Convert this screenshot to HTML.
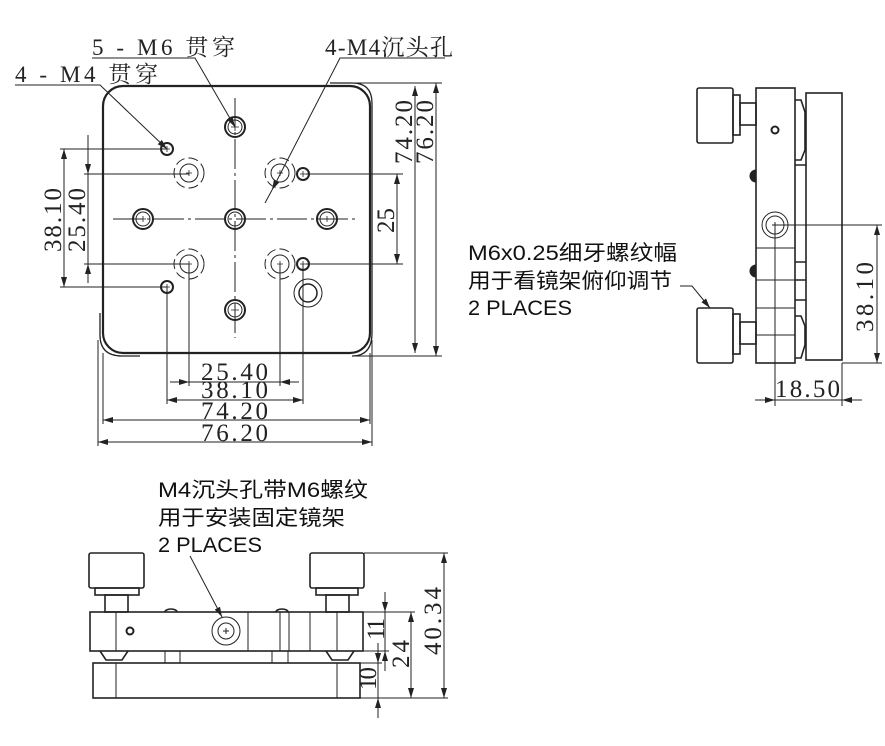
<!DOCTYPE html>
<html><head><meta charset="utf-8"><style>
html,body{margin:0;padding:0;background:#fff;}
svg{display:block;}
.s{font-family:"Liberation Serif","Noto Serif CJK SC",serif;font-size:25px;fill:#222;}
.l{font-family:"Liberation Serif","Noto Serif CJK SC",serif;font-size:23px;fill:#222;}
.t{font-family:"Liberation Sans","Noto Sans CJK SC",sans-serif;font-size:21px;fill:#111;}
</style></head><body>
<svg width="885" height="746" viewBox="0 0 885 746" xmlns="http://www.w3.org/2000/svg">
<defs>
<marker id="a" viewBox="0 0 10 6" refX="10" refY="3" markerWidth="10" markerHeight="6" orient="auto-start-reverse" markerUnits="userSpaceOnUse"><path d="M0,0 L10,3 L0,6 z" fill="#222"/></marker>
</defs>
<g fill="none" stroke="#222" stroke-width="1">
<rect x="103" y="86" width="267" height="267" rx="20" stroke-width="2.2"/>
<path d="M330,83 H352 Q372,83 372,103 V333 Q372,356 352,356" stroke-width="1.3"/>
<path d="M100,313 V335 Q100,356 122,356 H140" stroke-width="1.3"/>
<line x1="113" y1="219" x2="357" y2="219" stroke-dasharray="30,4,3,4"/>
<line x1="235" y1="98" x2="235" y2="338" stroke-dasharray="30,4,3,4"/>
<g stroke-width="2">
<circle cx="235" cy="127" r="10"/><circle cx="235" cy="219" r="10"/><circle cx="143" cy="219" r="10"/><circle cx="327" cy="219" r="10"/><circle cx="235" cy="310" r="10"/>
</g>
<g>
<circle cx="235" cy="127" r="7"/><circle cx="235" cy="219" r="7"/><circle cx="143" cy="219" r="7"/><circle cx="327" cy="219" r="7"/><circle cx="235" cy="310" r="7"/>
</g>
<g stroke-width="2">
<circle cx="167" cy="149" r="6"/><circle cx="167" cy="287" r="6"/><circle cx="303" cy="174" r="6"/><circle cx="303" cy="264" r="6"/>
</g>
<g>
<circle cx="189" cy="173" r="9"/><circle cx="280" cy="173" r="9"/><circle cx="189" cy="264" r="9"/><circle cx="280" cy="264" r="9"/>
<g stroke-dasharray="10,4"><circle cx="189" cy="173" r="15"/><circle cx="280" cy="173" r="15"/><circle cx="189" cy="264" r="15"/><circle cx="280" cy="264" r="15"/></g>
</g>
<circle cx="308" cy="293" r="14"/><circle cx="308" cy="293" r="9" stroke-width="1.5"/>
<g stroke-width="0.8">
<path d="M231,127h8M235,123v8M140,219h6M143,216v6M324,219h6M327,216v6M231,310h8M235,306v8M164,149h6M167,146v6M164,287h6M167,284v6M300,174h6M303,171v6M300,264h6M303,261v6M186,173h6M189,170v6M277,173h6M280,170v6M186,264h6M189,261v6M277,264h6M280,261v6"/>
</g>
<path d="M92,58H195L235,127" marker-end="url(#a)"/>
<path d="M15,85H100L167,149" marker-end="url(#a)"/>
<path d="M445,58H340L272,190" marker-end="url(#a)"/>
<line x1="272" y1="190" x2="265" y2="203"/>
<path d="M60,149H167M60,287H167M84,174H189M84,264H189"/>
<line x1="64" y1="149" x2="64" y2="287" marker-start="url(#a)" marker-end="url(#a)"/>
<line x1="88" y1="135" x2="88" y2="174" marker-end="url(#a)"/>
<line x1="88" y1="283" x2="88" y2="264" marker-end="url(#a)"/>
<line x1="88" y1="174" x2="88" y2="264"/>
<path d="M352,83H442M352,356H442M306,174H403M306,264H403"/>
<line x1="415" y1="86" x2="415" y2="353" marker-start="url(#a)" marker-end="url(#a)"/>
<line x1="436" y1="83" x2="436" y2="356" marker-start="url(#a)" marker-end="url(#a)"/>
<line x1="397" y1="174" x2="397" y2="264" marker-start="url(#a)" marker-end="url(#a)"/>
<path d="M189,264V386M280,264V386M167,287V404M303,264V404M103,353V424M370,353V424M98,340V446M372,340V446"/>
<line x1="170" y1="382" x2="189" y2="382" marker-end="url(#a)"/>
<line x1="299" y1="382" x2="280" y2="382" marker-end="url(#a)"/>
<line x1="189" y1="382" x2="280" y2="382"/>
<line x1="167" y1="400" x2="303" y2="400" marker-start="url(#a)" marker-end="url(#a)"/>
<line x1="103" y1="420" x2="370" y2="420" marker-start="url(#a)" marker-end="url(#a)"/>
<line x1="98" y1="442" x2="372" y2="442" marker-start="url(#a)" marker-end="url(#a)"/>

<g stroke-width="1.6">
<rect x="697" y="88" width="36" height="55" rx="2"/>
<rect x="733" y="95" width="7" height="40"/>
<rect x="740" y="103" width="16" height="22"/>
<rect x="697" y="308" width="36" height="55" rx="2"/>
<rect x="733" y="314" width="7" height="40"/>
<rect x="740" y="322" width="16" height="22"/>
<rect x="756" y="88" width="39" height="275"/>
<rect x="806" y="93" width="36" height="267"/>
<path d="M795,100H801L805,112V150L801,160H795M795,316H801L805,326V345L801,358H795"/>
<path d="M795,165H806M795,262H806M795,280H806M795,300H806"/>
</g>
<path d="M756,248H795M756,280H795M756,308H795M756,335H795M795,165V300"/>
<path d="M756,170a3,3 0 0 0 0,12M756,265a3,3 0 0 0 0,12" fill="#222"/>
<circle cx="775" cy="130" r="3.5" stroke-width="2"/>
<circle cx="775" cy="225" r="13"/><circle cx="775" cy="225" r="9"/>
<path d="M772,225h6M775,222v6"/>
<path d="M775,225H882M842,363H882M775,225V406M842,363V406"/>
<line x1="877" y1="225" x2="877" y2="363" marker-start="url(#a)" marker-end="url(#a)"/>
<line x1="755" y1="400" x2="775" y2="400" marker-end="url(#a)"/>
<line x1="862" y1="400" x2="842" y2="400" marker-end="url(#a)"/>
<line x1="775" y1="400" x2="842" y2="400"/>
<path d="M680,286H692L710,308" marker-end="url(#a)"/>

<g stroke-width="1.6">
<rect x="89" y="553" width="55" height="35" rx="2"/>
<rect x="95" y="588" width="44" height="7"/>
<rect x="105" y="595" width="23" height="17"/>
<rect x="310" y="553" width="54" height="35" rx="2"/>
<rect x="316" y="588" width="42" height="7"/>
<rect x="326" y="595" width="23" height="17"/>
<rect x="90" y="612" width="273" height="39"/>
<rect x="93" y="663" width="267" height="35"/>
<path d="M100,651L106,660H122L128,651M326,651L332,660H348L354,651M165,612a6,3 0 0 1 12,0M276,612a6,3 0 0 1 12,0"/>
</g>
<path d="M116,612V651M248,612V651M280,612V651M289,612V651M310,612V651M337,612V651M116,663V698M337,663V698M165,651V663M180,651V663M272,651V663M288,651V663"/>
<circle cx="130" cy="631" r="3.5" stroke-width="2"/>
<circle cx="226" cy="631" r="14"/><circle cx="226" cy="631" r="8"/>
<path d="M223,631h6M226,628v6"/>
<path d="M190,556L222,617" marker-end="url(#a)"/>
<path d="M364,553H448M363,612H415M363,651H389M360,663H382M360,698H448"/>
<line x1="444" y1="553" x2="444" y2="698" marker-start="url(#a)" marker-end="url(#a)"/>
<line x1="411" y1="612" x2="411" y2="698" marker-start="url(#a)" marker-end="url(#a)"/>
<line x1="385" y1="592" x2="385" y2="612" marker-end="url(#a)"/>
<line x1="385" y1="671" x2="385" y2="651" marker-end="url(#a)"/>
<line x1="385" y1="612" x2="385" y2="651"/>
<line x1="378" y1="643" x2="378" y2="663" marker-end="url(#a)"/>
<line x1="378" y1="718" x2="378" y2="698" marker-end="url(#a)"/>
<line x1="378" y1="663" x2="378" y2="698"/>
</g>

<text class="l" x="92" y="55" textLength="143" lengthAdjust="spacing" xml:space="preserve">5 - M6 贯穿</text>
<text class="l" x="15" y="82" textLength="143" lengthAdjust="spacing" xml:space="preserve">4 - M4 贯穿</text>
<text class="l" x="325" y="55" textLength="128" lengthAdjust="spacing">4-M4沉头孔</text>
<g class="s">
<text transform="translate(61,252) rotate(-90)" textLength="64" lengthAdjust="spacing">38.10</text>
<text transform="translate(85,252) rotate(-90)" textLength="64" lengthAdjust="spacing">25.40</text>
<text transform="translate(412,164) rotate(-90)" textLength="64" lengthAdjust="spacing">74.20</text>
<text transform="translate(433,164) rotate(-90)" textLength="64" lengthAdjust="spacing">76.20</text>
<text transform="translate(394,233) rotate(-90)" textLength="25" lengthAdjust="spacing">25</text>
<text x="201" y="380" textLength="67" lengthAdjust="spacing">25.40</text>
<text x="201" y="398" textLength="67" lengthAdjust="spacing">38.10</text>
<text x="201" y="419" textLength="67" lengthAdjust="spacing">74.20</text>
<text x="201" y="441" textLength="67" lengthAdjust="spacing">76.20</text>
<text transform="translate(873,332) rotate(-90)" textLength="70" lengthAdjust="spacing">38.10</text>
<text x="775" y="397" textLength="65" lengthAdjust="spacing">18.50</text>
<text transform="translate(441,655) rotate(-90)" textLength="68" lengthAdjust="spacing">40.34</text>
<text transform="translate(409,668) rotate(-90)" textLength="28" lengthAdjust="spacing">24</text>
<text transform="translate(384,640) rotate(-90)" textLength="22" lengthAdjust="spacing">11</text>
<text transform="translate(376,690) rotate(-90)" textLength="23" lengthAdjust="spacing">10</text>
</g>
<text class="t" x="468" y="260" textLength="209" lengthAdjust="spacingAndGlyphs">M6x0.25细牙螺纹幅</text>
<text class="t" x="468" y="288" textLength="204" lengthAdjust="spacingAndGlyphs">用于看镜架俯仰调节</text>
<text class="t" x="468" y="315" textLength="104" lengthAdjust="spacingAndGlyphs">2 PLACES</text>
<text class="t" x="158" y="497" textLength="210" lengthAdjust="spacingAndGlyphs">M4沉头孔带M6螺纹</text>
<text class="t" x="158" y="525" textLength="187" lengthAdjust="spacingAndGlyphs">用于安装固定镜架</text>
<text class="t" x="158" y="552" textLength="104" lengthAdjust="spacingAndGlyphs">2 PLACES</text>
</svg>
</body></html>
